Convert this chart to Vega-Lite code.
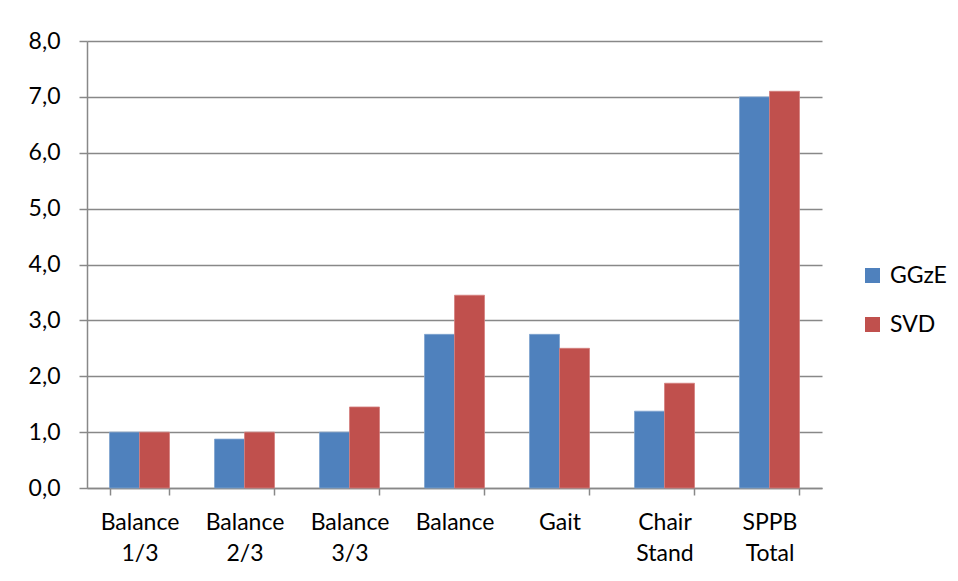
{
  "$schema": "https://vega.github.io/schema/vega-lite/v6.json",
  "width": 735,
  "height": 447,
  "autosize": {"type": "none"},
  "padding": {"left": 87, "top": 41, "right": 136, "bottom": 93},
  "background": "white",
  "config": {
    "font": "Lato",
    "view": {"stroke": null},
    "axis": {
      "labelFont": "Lato",
      "labelFontSize": 23,
      "labelColor": "#000000",
      "domainColor": "#888888",
      "tickColor": "#888888",
      "gridColor": "#888888",
      "gridWidth": 1.5,
      "domainWidth": 1.5,
      "tickWidth": 1.5
    }
  },
  "data": {
    "values": [
      {"category": "Balance 1/3", "group": "GGzE", "value": 1.0},
      {"category": "Balance 1/3", "group": "SVD", "value": 1.0},
      {"category": "Balance 2/3", "group": "GGzE", "value": 0.875},
      {"category": "Balance 2/3", "group": "SVD", "value": 1.0},
      {"category": "Balance 3/3", "group": "GGzE", "value": 1.0},
      {"category": "Balance 3/3", "group": "SVD", "value": 1.45},
      {"category": "Balance", "group": "GGzE", "value": 2.75},
      {"category": "Balance", "group": "SVD", "value": 3.45},
      {"category": "Gait", "group": "GGzE", "value": 2.75},
      {"category": "Gait", "group": "SVD", "value": 2.5},
      {"category": "Chair Stand", "group": "GGzE", "value": 1.375},
      {"category": "Chair Stand", "group": "SVD", "value": 1.875},
      {"category": "SPPB Total", "group": "GGzE", "value": 7.0},
      {"category": "SPPB Total", "group": "SVD", "value": 7.1}
    ]
  },
  "mark": {"type": "bar", "strokeWidth": 0.8},
  "encoding": {
    "x": {
      "field": "category",
      "type": "nominal",
      "sort": null,
      "title": null,
      "scale": {"paddingInner": 0.4286, "paddingOuter": 0.2143},
      "axis": {
        "labelAngle": 0,
        "tickBand": "extent",
        "tickSize": 7,
        "labelPadding": 16,
        "labelLineHeight": 31,
        "labelBaseline": "top",
        "labelExpr": "split(datum.label, ' ')"
      }
    },
    "xOffset": {"field": "group", "type": "nominal", "sort": ["GGzE", "SVD"], "scale": {"paddingInner": 0, "paddingOuter": 0}},
    "y": {
      "field": "value",
      "type": "quantitative",
      "title": null,
      "scale": {"domain": [0, 8], "nice": false},
      "axis": {
        "values": [0, 1, 2, 3, 4, 5, 6, 7, 8],
        "tickSize": 8,
        "labelPadding": 19,
        "labelExpr": "replace(format(datum.value, '.1f'), '.', ',')"
      }
    },
    "color": {
      "field": "group",
      "type": "nominal",
      "sort": ["GGzE", "SVD"],
      "scale": {"domain": ["GGzE", "SVD"], "range": ["#4F81BD", "#C0504D"]},
      "legend": {
        "title": null,
        "orient": "none",
        "legendX": 774,
        "legendY": 223,
        "symbolType": "square",
        "symbolSize": 225,
        "symbolStrokeWidth": 0,
        "labelFont": "Lato",
        "labelFontSize": 23,
        "labelColor": "#000000",
        "rowPadding": 25,
        "labelOffset": 6
      }
    },
    "stroke": {
      "field": "group",
      "type": "nominal",
      "scale": {"domain": ["GGzE", "SVD"], "range": ["#7FA3CF", "#D47F7D"]},
      "legend": null
    }
  }
}
